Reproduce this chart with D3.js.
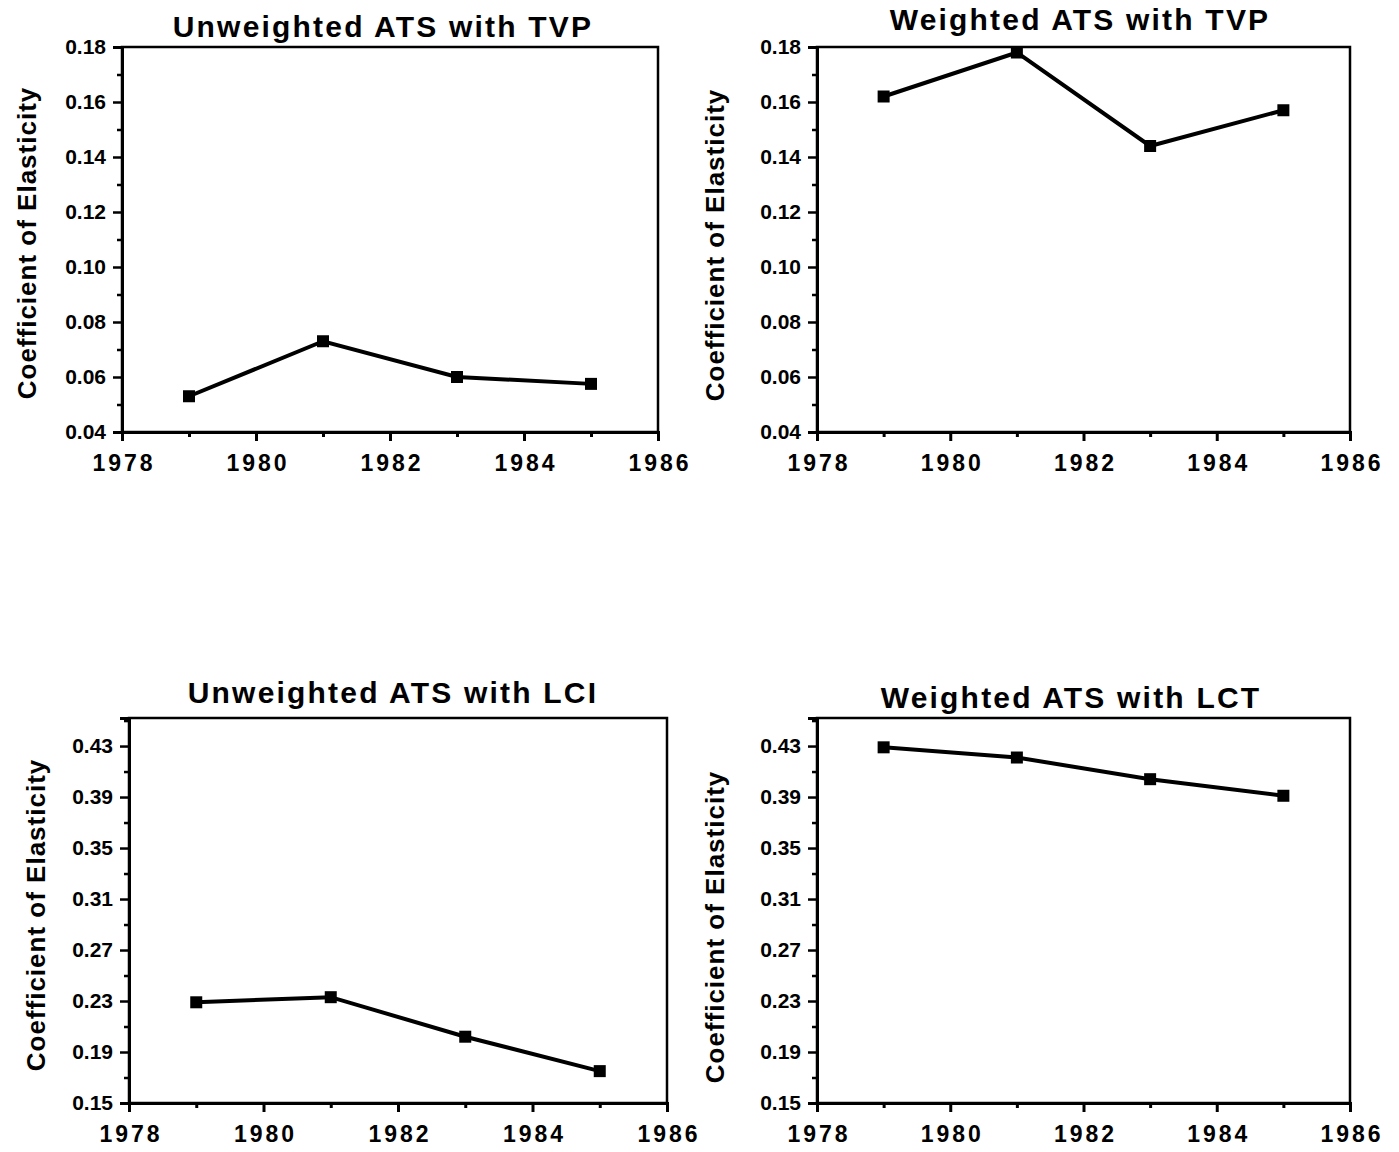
<!DOCTYPE html>
<html>
<head>
<meta charset="utf-8">
<script src="https://cdn.jsdelivr.net/npm/d3@7"></script>
<style>
  body { margin: 0; background: #fff; }
  text { font-family: "Liberation Sans", Arial, sans-serif; font-weight: bold; fill: #000; }
</style>
</head>
<body>
<svg id="chart" width="1399" height="1152"></svg>
<script>
// values
years = [1979, 1981, 1983, 1985];
xTicks = [1978, 1980, 1982, 1984, 1986];
xMinor = [1979, 1981, 1983, 1985];

unweightedTVP = [0.053, 0.073, 0.060, 0.0575];
weightedTVP = [0.162, 0.178, 0.144, 0.157];
unweightedLCI = [0.229, 0.233, 0.202, 0.175];
weightedLCT = [0.429, 0.421, 0.404, 0.391];

tvpTicks = [0.04, 0.06, 0.08, 0.10, 0.12, 0.14, 0.16, 0.18];
tvpMinor = [0.05, 0.07, 0.09, 0.11, 0.13, 0.15, 0.17];
lciTicks = [0.15, 0.19, 0.23, 0.27, 0.31, 0.35, 0.39, 0.43];
lciMinor = [0.17, 0.21, 0.25, 0.29, 0.33, 0.37, 0.41, 0.45];

titles = ['Unweighted ATS with TVP', 'Weighted ATS with TVP', 'Unweighted ATS with LCI', 'Weighted ATS with LCT'];
yTitle = 'Coefficient of Elasticity';

svg = d3.select('#chart');

panels = [
  {title: titles[0], values: unweightedTVP, ticks: tvpTicks, minor: tvpMinor, domain: [0.04, 0.18],
   left: 122, right: 658, top: 47, bottom: 432, tx: 383, ty: 37, lx: -95, ly: 243},
  {title: titles[1], values: weightedTVP, ticks: tvpTicks, minor: tvpMinor, domain: [0.04, 0.18],
   left: 817, right: 1350, top: 47, bottom: 432, tx: 1080, ty: 30, lx: -102, ly: 245},
  {title: titles[2], values: unweightedLCI, ticks: lciTicks, minor: lciMinor, domain: [0.15, 0.452],
   left: 129, right: 667, top: 718, bottom: 1103, tx: 393, ty: 703, lx: -93, ly: 915},
  {title: titles[3], values: weightedLCT, ticks: lciTicks, minor: lciMinor, domain: [0.15, 0.452],
   left: 817, right: 1350, top: 718, bottom: 1103, tx: 1071, ty: 708, lx: -102, ly: 927}
];

function drawPanel(p){
  let x = d3.scaleLinear().domain([1978, 1986]).range([p.left, p.right]);
  let y = d3.scaleLinear().domain(p.domain).range([p.bottom, p.top]);
  let g = svg.append('g');

  // frame
  g.append('rect')
    .attr('x', p.left).attr('y', p.top)
    .attr('width', p.right - p.left).attr('height', p.bottom - p.top)
    .attr('fill', 'none').attr('stroke', '#000').attr('stroke-width', 2.5);

  // y axis
  let yAxis = d3.axisLeft(y).tickValues(p.ticks).tickFormat(d3.format('.2f')).tickSize(9).tickPadding(7);
  let ya = g.append('g').attr('transform', 'translate(' + p.left + ',0)').call(yAxis);
  ya.select('.domain').attr('stroke-width', 3);
  ya.selectAll('.tick line').attr('stroke-width', 2.5);
  ya.selectAll('.tick text').attr('font-size', 21)
    .attr('font-family', '"Liberation Sans", Arial, sans-serif').attr('font-weight', 'bold');
  let yMinor = d3.axisLeft(y).tickValues(p.minor.filter(function(v){ return v <= p.domain[1]; }))
    .tickFormat('').tickSize(5);
  let ym = g.append('g').attr('transform', 'translate(' + p.left + ',0)').call(yMinor);
  ym.select('.domain').remove();
  ym.selectAll('.tick line').attr('stroke-width', 2.5);

  // x axis
  let xAxis = d3.axisBottom(x).tickValues(xTicks).tickFormat(d3.format('d')).tickSize(9).tickPadding(14);
  let xa = g.append('g').attr('transform', 'translate(0,' + p.bottom + ')').call(xAxis);
  xa.select('.domain').attr('stroke-width', 3);
  xa.selectAll('.tick line').attr('stroke-width', 3);
  xa.selectAll('.tick text').attr('font-size', 23).attr('letter-spacing', 3).attr('dx', 1.5)
    .attr('font-family', '"Liberation Sans", Arial, sans-serif').attr('font-weight', 'bold');
  let xMinorAxis = d3.axisBottom(x).tickValues(xMinor).tickFormat('').tickSize(5);
  let xm = g.append('g').attr('transform', 'translate(0,' + p.bottom + ')').call(xMinorAxis);
  xm.select('.domain').remove();
  xm.selectAll('.tick line').attr('stroke-width', 3);

  // series
  let pts = years.map(function(yr, i){ return [yr, p.values[i]]; });
  let line = d3.line().x(function(d){ return x(d[0]); }).y(function(d){ return y(d[1]); });
  g.append('path').datum(pts).attr('d', line)
    .attr('fill', 'none').attr('stroke', '#000').attr('stroke-width', 4);
  g.selectAll('.marker').data(pts).enter().append('rect')
    .attr('class', 'marker')
    .attr('x', function(d){ return x(d[0]) - 6; })
    .attr('y', function(d){ return y(d[1]) - 6; })
    .attr('width', 12).attr('height', 12)
    .attr('fill', '#000');

  // titles
  g.append('text').attr('x', p.tx).attr('y', p.ty)
    .attr('text-anchor', 'middle').attr('font-size', 30).attr('letter-spacing', 2.2)
    .text(p.title);
  g.append('text')
    .attr('transform', 'translate(' + (p.left + p.lx) + ',' + p.ly + ') rotate(-90)')
    .attr('text-anchor', 'middle').attr('dy', '0.35em').attr('font-size', 26).attr('letter-spacing', 1)
    .text(yTitle);
}

panels.forEach(function(p){ drawPanel(p); });
</script>
</body>
</html>
